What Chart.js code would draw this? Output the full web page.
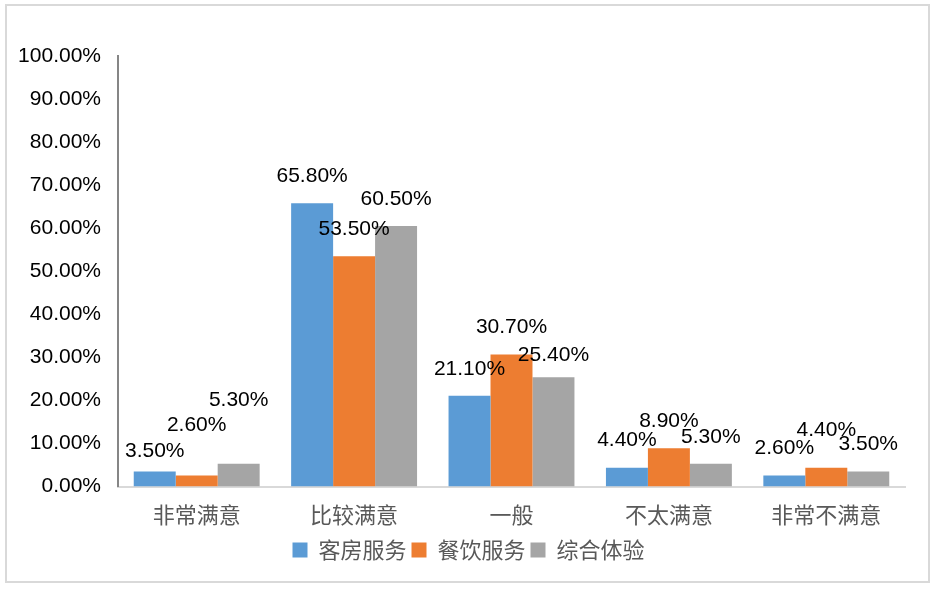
<!DOCTYPE html>
<html>
<head>
<meta charset="utf-8">
<script src="https://cdn.jsdelivr.net/npm/chart.js@4.4.1/dist/chart.umd.min.js"></script>
<style>
  html, body { margin: 0; padding: 0; background: #fff; }
  #wrap { position: relative; width: 940px; height: 593px; }
  #frame { position: absolute; left: 5px; top: 4px; width: 925px; height: 579px; border: 2px solid #d9d9d9; box-sizing: border-box; pointer-events: none; }
</style>
</head>
<body>
<div id="wrap">
  <canvas id="satisfactionChart" width="940" height="593"></canvas>
  <div id="frame"></div>
</div>
<script>
  const categories = ['非常满意', '比较满意', '一般', '不太满意', '非常不满意'];
  const roomService = [3.5, 65.8, 21.1, 4.4, 2.6];
  const foodService = [2.6, 53.5, 30.7, 8.9, 4.4];
  const overallExp = [5.3, 60.5, 25.4, 5.3, 3.5];
  const seriesNames = ['客房服务', '餐饮服务', '综合体验'];

  // extra lift for a few labels that sit higher in the original (px)
  const labelLift = { '0-0': -7, '1-0': 23, '2-0': 37, '2-2': -5, '1-4': 10 };

  const valueLabels = {
    id: 'valueLabels',
    afterDatasetsDraw(chart) {
      const ctx = chart.ctx;
      ctx.save();
      ctx.font = '21px "Liberation Sans"';
      ctx.fillStyle = '#000';
      ctx.textAlign = 'center';
      ctx.textBaseline = 'middle';
      chart.data.datasets.forEach((ds, i) => {
        chart.getDatasetMeta(i).data.forEach((bar, j) => {
          const lift = labelLift[i + '-' + j] || 0;
          ctx.fillText(ds.data[j].toFixed(2) + '%', bar.x, bar.y - 27 - lift);
        });
      });
      ctx.restore();
    }
  };

  // legend is centred on the whole frame, not on the plot
  const legendShift = {
    id: 'legendShift',
    afterLayout(chart) {
      chart.legend.left += 16;
      chart.legend.right += 16;
    }
  };

  const ctx = document.getElementById('satisfactionChart').getContext('2d');
  const myChart = new Chart(ctx, {
    type: 'bar',
    data: {
      labels: categories,
      datasets: [
        { label: seriesNames[0], data: roomService, backgroundColor: '#5B9BD5' },
        { label: seriesNames[1], data: foodService, backgroundColor: '#ED7D31' },
        { label: seriesNames[2], data: overallExp, backgroundColor: '#A5A5A5' }
      ]
    },
    options: {
      responsive: false,
      animation: false,
      devicePixelRatio: 1,
      categoryPercentage: 0.8,
      barPercentage: 1.0,
      layout: { padding: { top: 56, right: 35, bottom: 22, left: 0 } },
      plugins: {
        legend: {
          position: 'bottom',
          labels: {
            boxWidth: 15,
            boxHeight: 15,
            padding: 5,
            color: '#595959',
            font: { size: 22, family: '"Noto Sans CJK SC"' }
          }
        },
        tooltip: { enabled: false }
      },
      scales: {
        x: {
          afterFit(scale) { scale.height -= 9; },
          grid: { display: false, drawTicks: false },
          border: { display: true, color: '#d9d9d9', width: 2 },
          ticks: { color: '#595959', padding: 15, font: { size: 22, family: '"Noto Sans CJK SC"' } }
        },
        y: {
          min: 0,
          max: 100,
          afterFit(scale) { scale.width = 118; },
          grid: { display: false, drawTicks: false },
          border: { display: true, color: '#868686', width: 2 },
          ticks: {
            stepSize: 10,
            padding: 17,
            color: '#000',
            font: { size: 21, family: '"Liberation Sans"' },
            callback: v => v.toFixed(2) + '%'
          }
        }
      }
    },
    plugins: [valueLabels, legendShift]
  });
</script>
</body>
</html>
